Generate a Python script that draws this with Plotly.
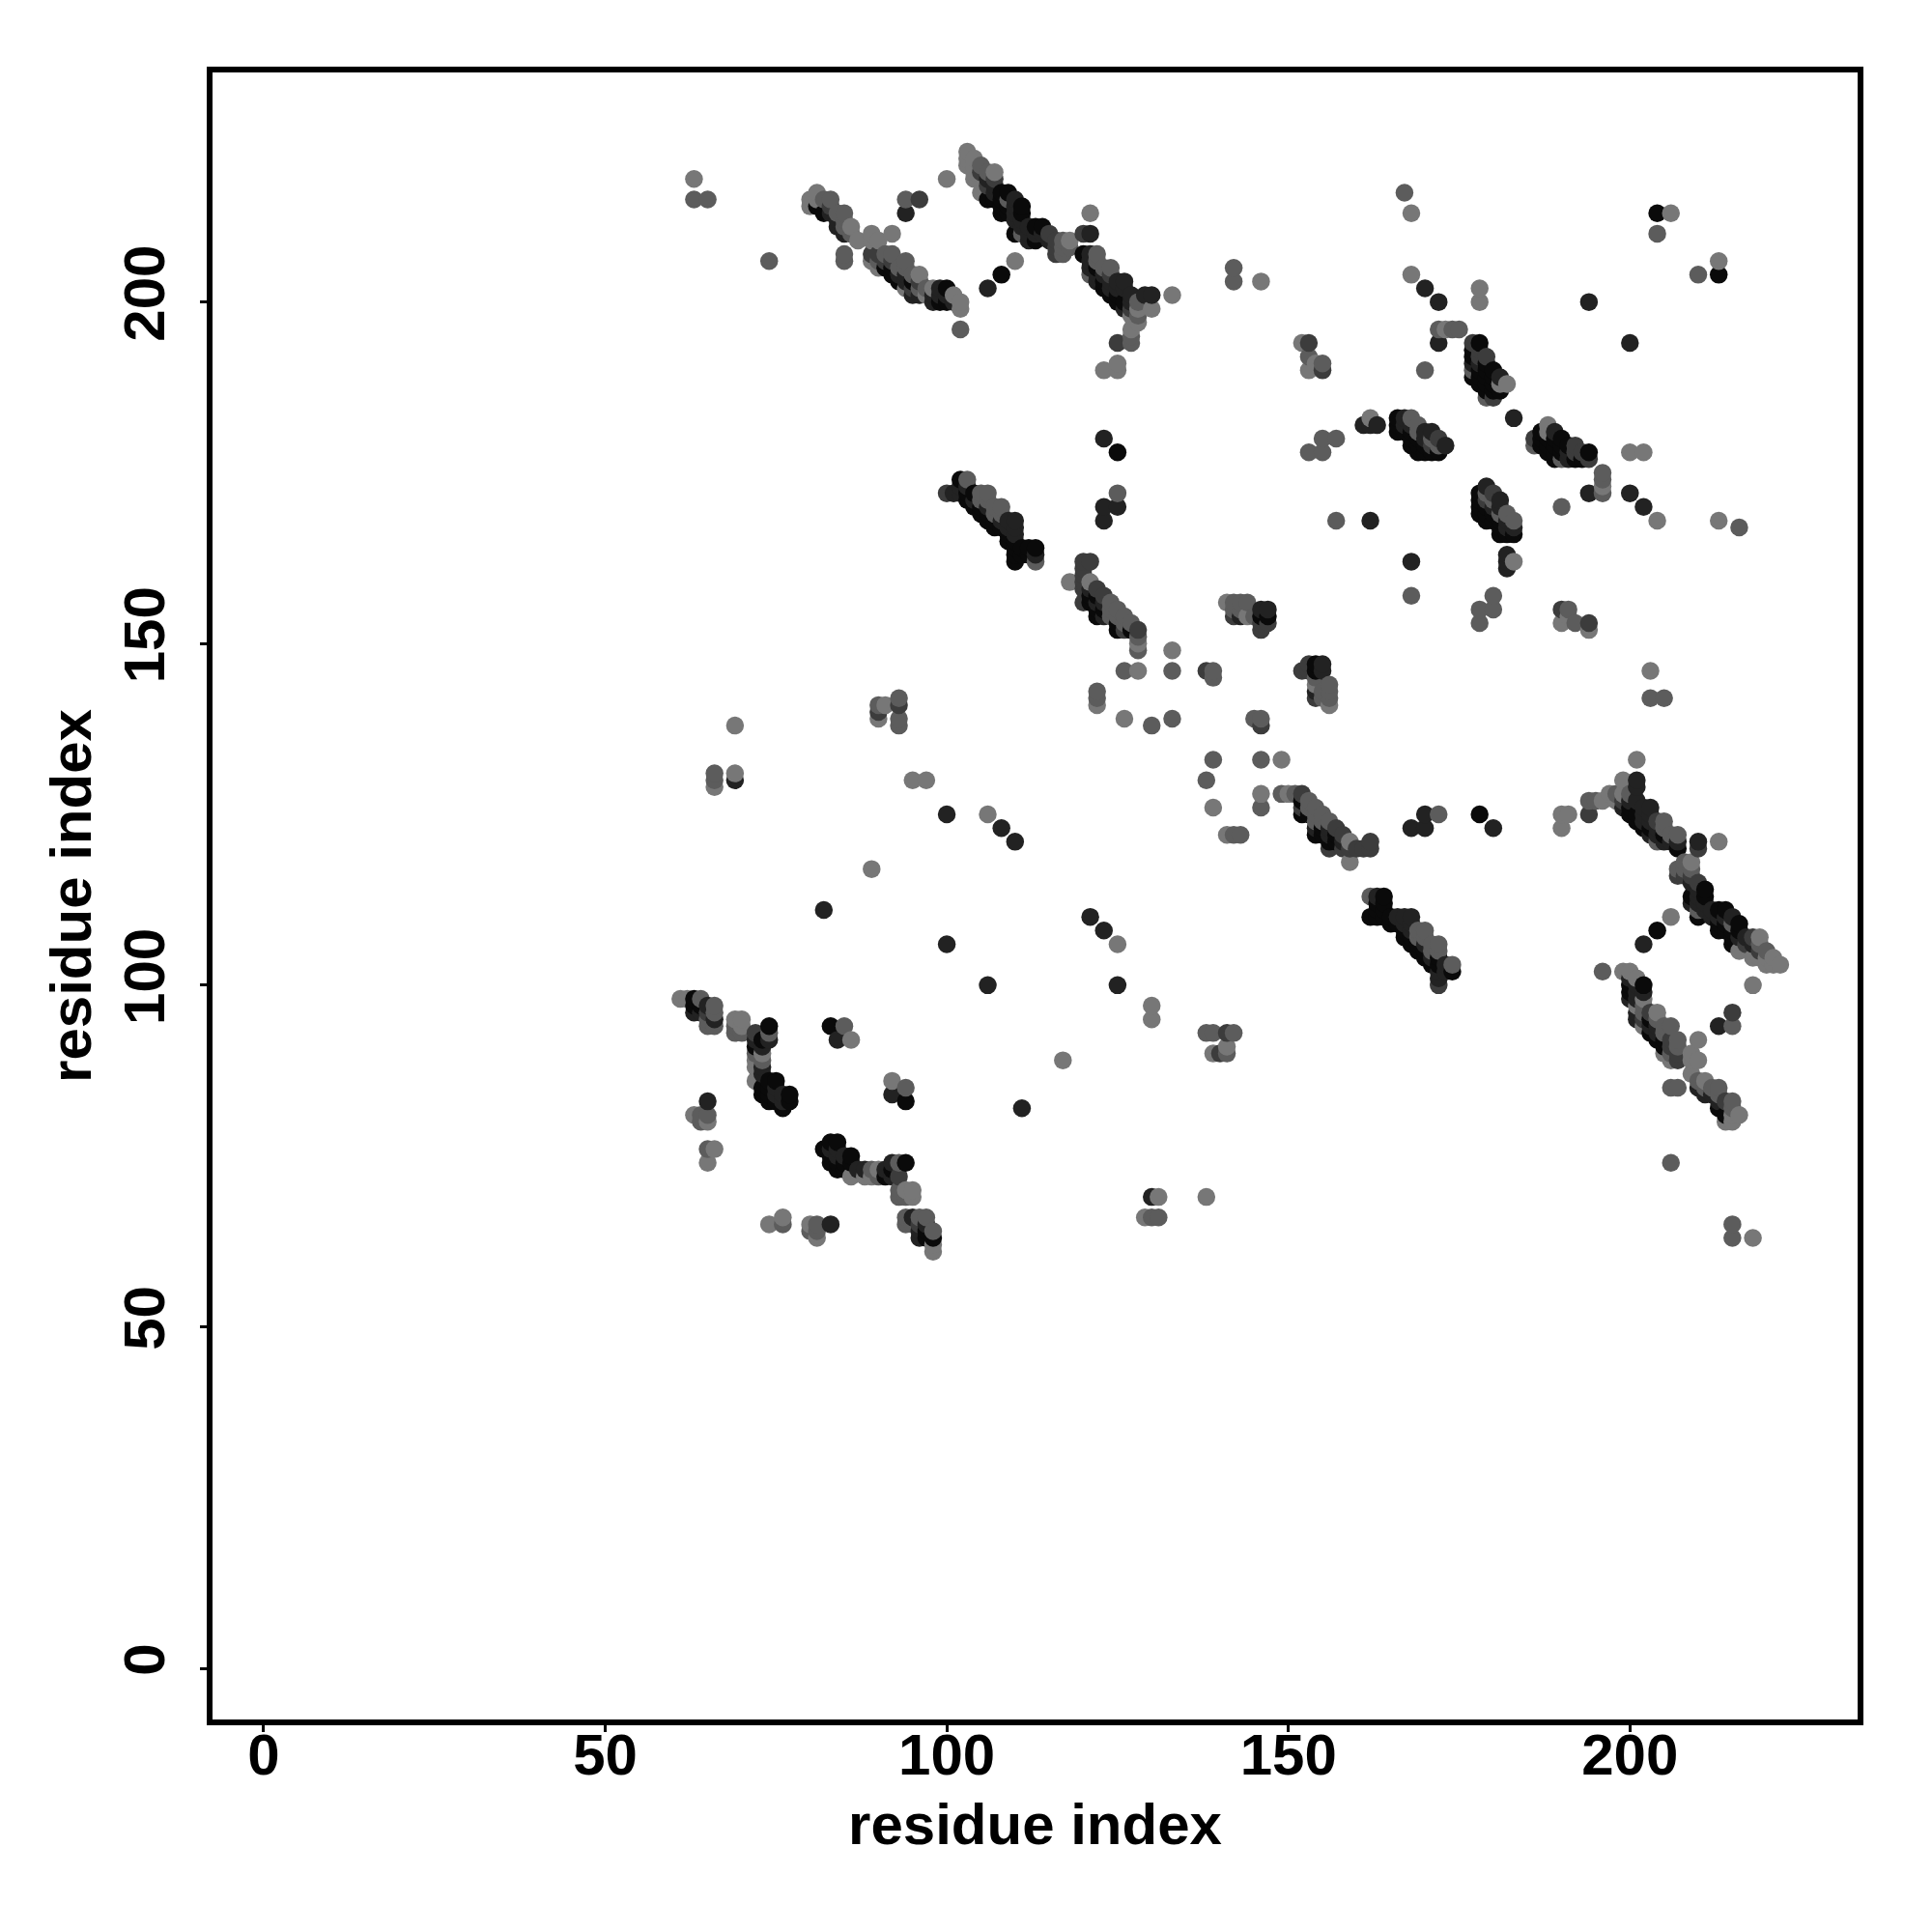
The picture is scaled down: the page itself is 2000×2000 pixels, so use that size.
import plotly.graph_objects as go

tick_values = [0, 50, 100, 150, 200]
axis_label = "residue index"

light_i = [63,80,80,81,86,87,89,89,90,92,89,90,94,96,97,98,101,102,102,100,110,103,103,103,104,104,104,105,107,118,121,133,130,128,127,125,123,125,127,
           118,121,128,133,128,122,126,133,141,144,142,141,126,128,133,122,106,121,120,95,97,168,206,206,146,168,178,178,173,152,153,154,181,182,162,182,
           61,62,69,70,70,72,73,72,86,63,65,66,65,69,66,69,90,91,93,89,70,70,
           81,104,128,72]
light_j = [218,214,215,216,211,209,210,209,209,210,206,205,202,204,201,202,201,200,199,218,206,222,221,220,221,219,218,216,219,209,213,201,199,199,196,191,190,190,198,
           159,159,150,149,146,141,139,139,156,154,156,156,139,146,149,141,125,159,161,130,130,213,213,213,203,204,202,200,196,194,190,191,188,188,183,188,
           98,98,95,95,94,89,90,86,92,81,80,76,74,131,129,138,139,141,142,117,93,94,
           215,220,197,88]

mid_i = [63,65,82,83,84,85,91,92,94,94,94,102,111,117,117,122,123,121,125,127,127,85,85,74,103,105,106,108,107,113,
         121,125,127,128,128,126,133,139,139,122,122,130,122,122,139,139,143,142,133,133,126,128,127,126,125,123,142,142,167,204,204,170,172,174,175,153,155,177,179,180,
         161,168,169,171,179,155,157,153,155,170,171,169,168,157,161,64,66,65,65,66,69,70,74,85,64,65,64,65,66,66,69,93,93,93,90,
         96,144,143,143,
         85,85,86,90,93,95,96,97,105,106,109,117,118,122,124,128,128,105,106,107,108,124,124,124,125,126,126,128,142,143,145,155,169,172,66,69,72,73]
mid_j = [215,215,215,215,213,213,207,207,206,205,215,196,210,209,207,207,205,204,172,195,194,207,206,206,174,172,172,170,169,162,
         162,155,153,152,149,146,146,146,145,143,142,138,142,143,133,146,156,156,146,139,146,149,153,154,155,156,205,203,216,210,210,190,196,196,196,192,191,190,186,186,
         182,183,182,180,186,180,180,178,178,190,180,178,183,168,182,98,97,95,94,94,93,93,93,94,81,81,80,76,131,130,130,138,139,142,141,
         215,156,154,156,
         211,212,210,206,205,204,202,202,220,219,215,208,208,206,205,200,198,171,171,170,169,156,155,154,154,154,153,151,155,155,154,142,181,179,96,94,90,89]

dark_i = [89,90,96,116,116,120,100,125,120,120,120,120,138,142,146,146,142,128,126,123,120,162,121,153,172,177,178,162,173,155,180,178,177,167,90,93,123,72,
          83,91,92,95,96,105,106,107,115,116,124,127,120,120,122,153,153,171,172,178,179,65,72]
dark_j = [207,207,215,209,207,210,172,194,162,161,158,156,146,154,152,153,154,152,152,154,156,168,162,194,194,194,192,182,179,190,186,192,189,183,140,141,157,92,
          214,206,206,202,203,219,217,218,210,208,204,199,160,159,158,147,146,179,180,193,192,96,93]

black_soft_i = [85,84,94,106,125,123,123,123,106,112,115,121,121,122,124,126,127,129,130,95,96,101,110,110,102,123,146,147,100,100,108,110,162,170,172,194,167,170,171,173,172,
                63,65,66,72,74,73,73,75,65,84,82,83,162,167,161,163,183,
                83,84,92,93,94,94,98,98,99,99,100,107,107,110,110,110,110,111,111,112,112,113,114,121,121,122,123,123,124,125,125,126,126,127,101,102,103,104,106,108,109,109,109,110,113,121,122,123,146,147,143,167,168,170,177,178,181,64,73,75,76,76,69]
black_soft_j = [210,211,213,202,170,170,168,180,218,211,209,210,207,204,203,203,201,201,201,201,201,200,168,166,172,154,154,154,106,125,123,121,168,202,200,200,183,181,181,179,194,
                96,97,95,92,92,88,87,84,83,92,111,94,182,183,182,182,183,
                213,212,205,204,204,203,200,201,201,202,201,217,216,214,212,213,215,212,211,210,209,210,210,206,205,203,204,202,202,203,202,202,199,200,172,173,173,171,170,168,168,167,165,167,163,158,156,156,155,155,154,182,182,180,191,191,189,96,91,85,84,83,130]

black_i = [81,82,91,92,93,95,100,99,100,108,106,108,109,108,109,111,111,110,113,114,113,120,123,125,125,102,105,107,109,110,110,111,113,122,122,125,154,154,125,121,204,213,
           166,166,168,170,171,172,178,177,177,180,179,180,63,64,74,73,72,75,74,73,74,76,77,77,83,178,103,
           92,107,108,108,109,122,123,124,125,126,103,104,104,105,106,106,107,108,109,110,110,111,112,112,121,121,122,123,125,127,166,167,168,168,169,169,169,170,177,178,178,179,179,179,179,179,180,180,181,63,73,74,74,75]
black_j = [214,213,205,204,203,203,202,200,200,204,215,216,216,213,213,214,213,210,211,211,209,207,202,200,178,174,169,167,166,164,162,164,164,157,154,152,147,146,152,156,213,204,
           183,182,180,178,178,178,194,192,189,190,188,188,98,97,94,92,91,86,86,85,83,82,83,84,94,190,171,
           205,215,215,214,214,205,203,201,201,200,172,172,170,170,169,168,168,167,165,165,163,163,164,163,157,156,155,155,153,152,181,181,181,179,180,179,178,179,193,189,188,191,190,189,187,188,189,187,187,97,84,85,84,83]

levels = [
    (light_i, light_j, "#777777"),
    (mid_i, mid_j, "#5c5c5c"),
    (dark_i, dark_j, "#3c3c3c"),
    (black_soft_i, black_soft_j, "#222222"),
    (black_i, black_j, "#0a0a0a"),
]

contacts = {}
for li, lj, shade in levels:
    for a, b in zip(li, lj):
        lo, hi = min(a, b), max(a, b)
        contacts[(lo, hi)] = shade
        contacts[(hi, lo)] = shade
order = sorted(contacts)
x = [p[0] for p in order]
y = [p[1] for p in order]
colors = [contacts[p] for p in order]

fig = go.Figure(go.Scatter(x=x, y=y, mode="markers",
                           marker=dict(size=18.5, color=colors, line=dict(width=0)),
                           showlegend=False, hoverinfo="skip"))

font = dict(family="Liberation Sans", size=60, color="black", weight="bold")
axis = dict(tickmode="array", tickvals=tick_values, ticks="outside", ticklen=7, tickwidth=2.5,
            tickcolor="black", showgrid=False, zeroline=False, showline=True, linecolor="black",
            linewidth=6, mirror=True, tickfont=font)
fig.update_xaxes(range=[-7.48, 233.33], ticklabelstandoff=-28,
                 title=dict(text=axis_label, font=font, standoff=20), **axis)
fig.update_yaxes(range=[-7.48, 233.6], tickangle=-90, ticklabelstandoff=13,
                 title=dict(text=axis_label, font=font, standoff=4), **axis)
fig.update_layout(width=2000, height=2000, autosize=False, paper_bgcolor="white", plot_bgcolor="white",
                  margin=dict(l=211.5, r=84.7, t=67, b=228, pad=0))
fig.write_html("out.html")
